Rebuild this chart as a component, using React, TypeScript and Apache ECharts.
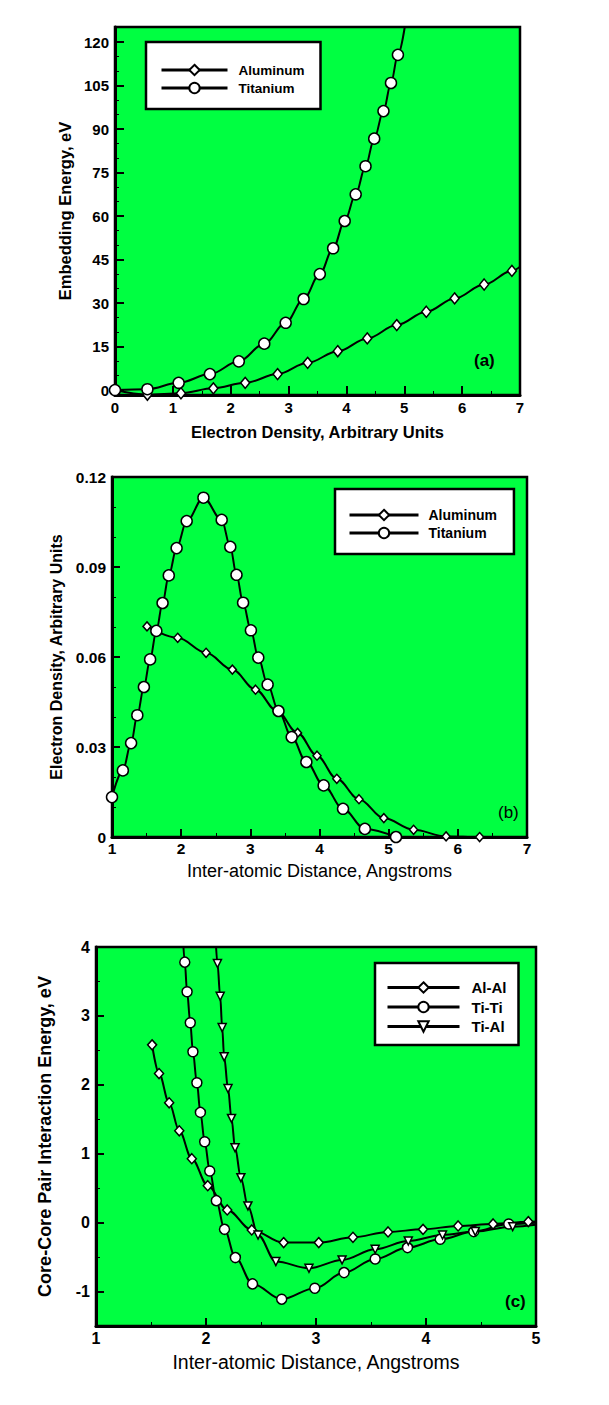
import React, { useEffect, useRef } from "react";
import * as echarts from "echarts";

// ---------- Panel (a): Embedding energy vs electron density ----------
const aTiX = [0, 0.56, 1.1, 1.64, 2.14, 2.58, 2.95, 3.26, 3.54, 3.77, 3.97, 4.16, 4.33, 4.48, 4.64, 4.77, 4.89];
const aTiY = [0, 0.3, 2.5, 5.5, 9.9, 16.0, 23.2, 31.4, 40.0, 48.9, 58.3, 67.5, 77.2, 86.7, 96.2, 105.9, 115.6];
const aTiTail = [[5.03, 128]];
const aAlX = [0, 0.56, 1.14, 1.7, 2.25, 2.81, 3.33, 3.85, 4.36, 4.87, 5.38, 5.87, 6.38, 6.86];
const aAlY = [0, -1.6, -1.1, 0.6, 2.5, 5.5, 9.4, 13.4, 17.8, 22.4, 27.0, 31.6, 36.4, 41.1];
const aAlTail = [[7.0, 42.5]];
const aXMajor = [0, 1, 2, 3, 4, 5, 6, 7];
const aXMinor = [0.5, 1.5, 2.5, 3.5, 4.5, 5.5, 6.5];
const aYMajor = [0, 15, 30, 45, 60, 75, 90, 105, 120];
const aYMinor = [5, 10, 20, 25, 35, 40, 50, 55, 65, 70, 80, 85, 95, 100, 110, 115];

// ---------- Panel (b): Electron density vs distance ----------
const bTiX = [1.0, 1.157, 1.276, 1.366, 1.461, 1.551, 1.641, 1.731, 1.821, 1.934, 2.08, 2.322, 2.586, 2.71, 2.8, 2.895, 3.008, 3.115, 3.25, 3.407, 3.598, 3.81, 4.06, 4.34, 4.656, 5.106];
const bTiY = [0.0133, 0.0222, 0.0313, 0.0406, 0.05, 0.0592, 0.0687, 0.078, 0.0872, 0.0963, 0.1053, 0.1131, 0.1057, 0.0967, 0.0874, 0.0781, 0.0689, 0.0598, 0.0508, 0.042, 0.0333, 0.025, 0.0172, 0.0094, 0.0027, 0.0];
const bAlX = [1.506, 1.95, 2.36, 2.74, 3.075, 3.385, 3.683, 3.964, 4.25, 4.571, 4.93, 5.36, 5.83, 6.315];
const bAlY = [0.0702, 0.0664, 0.0614, 0.0558, 0.0491, 0.042, 0.0347, 0.0271, 0.0194, 0.0126, 0.0063, 0.0024, 0.0002, 0.0];
const bAlTail = [[7.0, 0.0]];
const bXMajor = [1, 2, 3, 4, 5, 6, 7];
const bXMinor = [1.5, 2.5, 3.5, 4.5, 5.5, 6.5];
const bYMajor = [0, 0.03, 0.06, 0.09, 0.12];
const bYMinor = [0.01, 0.02, 0.04, 0.05, 0.07, 0.08, 0.1, 0.11];

// ---------- Panel (c): Pair interaction energy vs distance ----------
const cAlX = [1.51, 1.573, 1.665, 1.757, 1.871, 2.016, 2.193, 2.416, 2.706, 3.025, 3.336, 3.655, 3.973, 4.292, 4.61, 4.93];
const cAlY = [2.58, 2.164, 1.739, 1.333, 0.928, 0.536, 0.184, -0.106, -0.29, -0.29, -0.213, -0.135, -0.097, -0.048, -0.019, 0.014];
const cAlTail = [[5.0, 0.015]];
const cTiHead = [[1.785, 4.3]];
const cTiX = [1.807, 1.828, 1.857, 1.881, 1.917, 1.949, 1.988, 2.034, 2.094, 2.168, 2.267, 2.423, 2.688, 2.989, 3.255, 3.538, 3.832, 4.129, 4.434, 4.752];
const cTiY = [3.78, 3.35, 2.9, 2.48, 2.03, 1.6, 1.174, 0.749, 0.319, -0.097, -0.507, -0.889, -1.111, -0.952, -0.725, -0.527, -0.362, -0.242, -0.13, -0.019];
const cTiTail = [[5.0, 0.0]];
const cTiAlHead = [[2.085, 4.2]];
const cTiAlX = [2.104, 2.129, 2.147, 2.165, 2.2, 2.232, 2.264, 2.317, 2.381, 2.473, 2.635, 2.936, 3.237, 3.538, 3.839, 4.15, 4.448, 4.788];
const cTiAlY = [3.76, 3.285, 2.83, 2.406, 1.947, 1.512, 1.087, 0.652, 0.242, -0.179, -0.565, -0.662, -0.541, -0.386, -0.266, -0.179, -0.13, -0.058];
const cTiAlTail = [[5.0, -0.03]];
const cXMajor = [1, 2, 3, 4, 5];
const cXMinor = [1.5, 2.5, 3.5, 4.5];
const cYMajor = [-1, 0, 1, 2, 3, 4];
const cYMinor = [-0.5, 0.5, 1.5, 2.5, 3.5];

const FONT = "'Liberation Sans', Arial, Helvetica, sans-serif";
const GREEN = "#00ff41";

function pts(xs: number[], ys: number[], head: number[][] = [], tail: number[][] = []) {
  const hidden = (p: number[]) => ({ value: p, symbol: "none" });
  return [
    ...head.map(hidden),
    ...xs.map((x, i) => [x, ys[i]]),
    ...tail.map(hidden),
  ];
}

function axisPair(
  gridIndex: number,
  pos: "bottom" | "left",
  min: number,
  max: number,
  majors: number[],
  minors: number[],
  labelSize: number,
  labelMargin: number,
  name: string,
  nameSize: number,
  nameWeight: string,
  nameGap: number,
  majorLen: number
) {
  const isY = pos === "left";
  return [
    {
      type: "value",
      gridIndex,
      position: pos,
      min,
      max,
      name,
      nameLocation: "middle",
      nameGap,
      nameRotate: isY ? 90 : 0,
      nameTextStyle: { fontFamily: FONT, fontSize: nameSize, fontWeight: nameWeight, color: "#000" },
      axisLine: { show: true, onZero: false, lineStyle: { color: "#000", width: 3 } },
      axisTick: { show: true, inside: true, length: majorLen, customValues: majors, lineStyle: { color: "#000", width: 2 } },
      axisLabel: { show: true, customValues: majors, margin: labelMargin, fontFamily: FONT, fontSize: labelSize, fontWeight: "bold", color: "#000" },
      splitLine: { show: false },
    },
    {
      type: "value",
      gridIndex,
      position: pos,
      min,
      max,
      axisLine: { show: false, onZero: false },
      axisTick: { show: true, inside: true, length: 4, customValues: minors, lineStyle: { color: "#000", width: 1 } },
      axisLabel: { show: false },
      splitLine: { show: false },
    },
  ];
}

function lineSeries(name: string, xi: number, yi: number, data: any[], symbol: string, size: any, rotate = 0) {
  return {
    type: "line",
    name,
    xAxisIndex: xi,
    yAxisIndex: yi,
    data,
    symbol,
    symbolSize: size,
    symbolRotate: rotate,
    showAllSymbol: true,
    smooth: 0.35,
    smoothMonotone: "x",
    clip: true,
    lineStyle: { color: "#000", width: 2 },
    itemStyle: { color: "#fff", borderColor: "#000", borderWidth: 1.5 },
    emphasis: { disabled: true },
    z: 3,
  };
}

function legendBox(names: string[], left: number, top: number, padding: number[], itemWidth: number, fontSize: number, textPad: number, itemGap: number) {
  return {
    data: names,
    orient: "vertical",
    left,
    top,
    padding,
    itemWidth,
    itemHeight: 13,
    itemGap,
    selectedMode: false,
    backgroundColor: "#fff",
    borderColor: "#000",
    borderWidth: 2.5,
    borderRadius: 0,
    lineStyle: { width: 3, color: "#000" },
    textStyle: { fontFamily: FONT, fontSize, fontWeight: "bold", color: "#000", padding: [0, 0, 0, textPad], lineHeight: 14 },
  };
}

export default function App() {
  const ref = useRef<HTMLDivElement>(null);
  useEffect(() => {
    if (!ref.current) return;
    const chart = echarts.init(ref.current, undefined, { renderer: "svg" });
    const gridBase = { show: true, backgroundColor: GREEN, borderColor: "#000", borderWidth: 2.5, containLabel: false };
    const option: any = {
      animation: false,
      backgroundColor: "#fff",
      grid: [
        { ...gridBase, left: 115, top: 27, width: 405, height: 368 },
        { ...gridBase, left: 112, top: 477, width: 415, height: 360 },
        { ...gridBase, left: 96, top: 947, width: 440, height: 379 },
      ],
      xAxis: [
        ...axisPair(0, "bottom", 0, 7, aXMajor, aXMinor, 15, 5, "Electron Density, Arbitrary Units", 16.5, "bold", 28, 9),
        ...axisPair(1, "bottom", 1, 7, bXMajor, bXMinor, 15.5, 3, "Inter-atomic Distance, Angstroms", 18, "normal", 25, 8),
        ...axisPair(2, "bottom", 1, 5, cXMajor, cXMinor, 16, 4, "Inter-atomic Distance, Angstroms", 19.5, "normal", 26, 8),
      ],
      yAxis: [
        ...axisPair(0, "left", -1.7, 125.2, aYMajor, aYMinor, 15, 6, "Embedding Energy, eV", 16.5, "bold", 41, 9),
        ...axisPair(1, "left", 0, 0.12, bYMajor, bYMinor, 15.5, 6, "Electron Density, Arbitrary Units", 16, "bold", 46, 8),
        ...axisPair(2, "left", -1.5, 4, cYMajor, cYMinor, 16, 6, "Core-Core Pair Interaction Energy, eV", 18, "bold", 42, 8),
      ],
      legend: [
        legendBox(["Aluminum", "Titanium"], 146, 42, [21, 16, 14, 14], 66, 13.5, 6, 4),
        legendBox(["Aluminum", "Titanium"], 335, 489, [19, 17, 14, 13], 69, 14, 5, 4),
        legendBox(["Al-Al", "Ti-Ti", "Ti-Al"], 375, 963, [17, 12, 11, 11], 72, 15, 7, 4.5),
      ],
      series: [
        lineSeries("Aluminum", 0, 0, pts(aAlX, aAlY, [], aAlTail), "diamond", [9, 11]),
        lineSeries("Titanium", 0, 0, pts(aTiX, aTiY, [], aTiTail), "circle", 11),
        lineSeries("Aluminum", 2, 2, pts(bAlX, bAlY, [], bAlTail), "diamond", [8, 9]),
        lineSeries("Titanium", 2, 2, pts(bTiX, bTiY), "circle", 11),
        lineSeries("Al-Al", 4, 4, pts(cAlX, cAlY, [], cAlTail), "diamond", [9, 10]),
        lineSeries("Ti-Ti", 4, 4, pts(cTiX, cTiY, cTiHead, cTiTail), "circle", 10),
        lineSeries("Ti-Al", 4, 4, pts(cTiAlX, cTiAlY, cTiAlHead, cTiAlTail), "triangle", 8, 180),
      ],
      graphic: [
        { type: "text", left: 474, top: 352, style: { text: "(a)", fontFamily: FONT, fontSize: 17, fontWeight: "bold", fill: "#000" }, z: 10 },
        { type: "text", left: 498, top: 804, style: { text: "(b)", fontFamily: FONT, fontSize: 17, fontWeight: "normal", fill: "#000" }, z: 10 },
        { type: "text", left: 505, top: 1293, style: { text: "(c)", fontFamily: FONT, fontSize: 17, fontWeight: "bold", fill: "#000" }, z: 10 },
      ],
    };
    chart.setOption(option);
    return () => chart.dispose();
  }, []);
  return (
    <div
      ref={ref}
      style={{ position: "absolute", left: 0, top: 0, width: 609, height: 1405, background: "#fff" }}
    />
  );
}
